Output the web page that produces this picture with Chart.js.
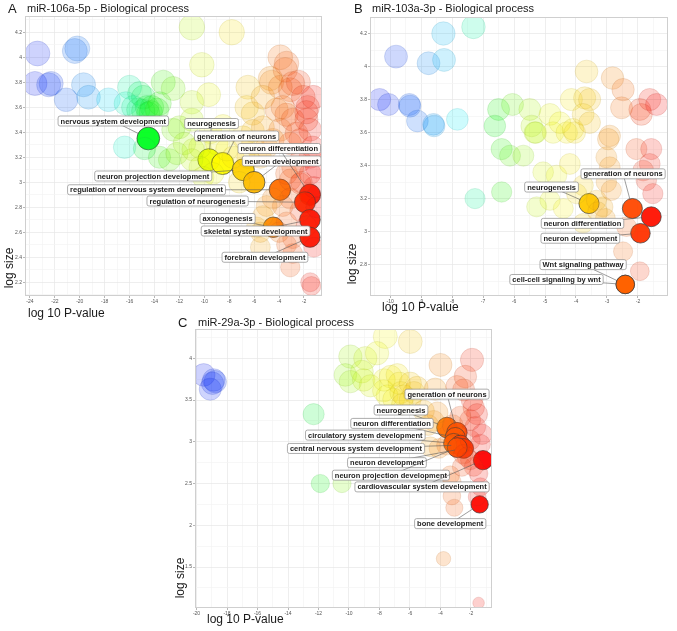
<!DOCTYPE html>
<html lang="en">
<head>
<meta charset="UTF-8">
<title>miRNA GO Biological process bubble plots</title>
<script src="https://cdn.jsdelivr.net/npm/chart.js@4"></script>
<style>
  html, body { margin: 0; padding: 0; background: #fff; }
  #wrap { position: relative; width: 677px; height: 631px; }
  .panel { position: absolute; }
</style>
</head>
<body>
<div id="wrap">
  <div class="panel" style="left:0;top:0"><canvas id="chartA" width="330" height="322"></canvas></div>
  <div class="panel" style="left:340px;top:0"><canvas id="chartB" width="337" height="322"></canvas></div>
  <div class="panel" style="left:150px;top:300px"><canvas id="chartC" width="350" height="331"></canvas></div>
</div>
<script>
// ---- panel A: miR-106a-5p ----
const aPoints = [
  [-23.4,4.03],[-20.4,4.05],[-20.2,4.07],[-23.6,3.79],[-22.5,3.78],[-22.3,3.79],[-21.1,3.66],[-19.7,3.78],[-19.3,3.68],
  [-17.7,3.66],[-16.0,3.76],[-16.3,3.63],[-15.2,3.71],[-14.9,3.68],[-15.7,3.60],[-15.3,3.58],[-14.6,3.60],[-14.2,3.60],
  [-14.9,3.57],[-14.5,3.55],[-14.3,3.56],[-16.4,3.28],[-14.8,3.27],[-13.3,3.80],[-12.5,3.75],[-13.6,3.63],[-13.8,3.58],
  [-11.0,4.24],[-7.8,4.20],[-10.2,3.94],[-9.65,3.70],[-11.0,3.64],[-11.0,3.50],[-12.0,3.44],[-12.5,3.42],[-13.6,3.20],
  [-12.8,3.18],[-12.2,3.23],[-11.6,3.31],[-10.9,3.26],[-10.35,3.28],[-11.0,3.18],[-10.35,3.12],[-10.1,3.04],[-9.3,3.07],
  [-9.0,3.31],[-8.2,3.26],[-7.7,3.20],[-9.5,3.40],[-8.5,3.45],
  [-6.5,3.76],[-6.1,3.55],[-6.6,3.60],[-4.7,3.83],[-4.6,3.80],[-5.3,3.68],[-6.1,3.41],[-5.3,3.44],[-6.9,3.36],[-6.1,3.31],
  [-5.0,3.28],[-3.9,4.00],[-3.4,3.95],[-3.5,3.90],[-3.9,3.76],[-2.9,3.79],[-3.1,3.74],[-4.2,3.58],[-3.4,3.54],[-3.7,3.60],
  [-3.9,3.42],[-4.5,3.34],[-5.8,2.64],[-5.5,2.48],[-3.1,2.32],[-2.9,2.43],[-5.5,3.20],[-6.5,3.20],[-7.2,3.00],
  [-2.45,3.80],[-2.05,3.68],[-1.25,3.68],[-1.5,3.42],[-1.8,3.50],[-2.9,3.50],[-2.6,3.39],[-2.3,3.34],[-3.1,3.31],[-1.3,3.28],
  [-1.5,3.20],[-2.3,3.17],[-2.9,3.12],[-3.4,3.07],[-3.1,3.02],[-2.3,2.99],[-1.5,3.07],[-1.0,3.12],[-1.2,2.96],[-1.0,2.80],
  [-2.3,2.77],[-3.1,2.87],[-3.7,2.81],[-4.5,2.87],[-5.0,2.81],[-5.3,2.73],[-5.5,2.60],[-4.0,2.60],[-3.4,2.68],[-2.9,2.55],
  [-1.2,2.48],[-3.4,2.50],[-1.5,2.20],[-1.4,2.17],[-1.7,3.60],[-1.8,3.56],[-2.2,3.00],[-1.8,2.65]
];
const aTerms = ['nervous system development','neurogenesis','generation of neurons','neuron projection development',
  'neuron development','regulation of nervous system development','neuron differentiation','regulation of neurogenesis',
  'skeletal system development','forebrain development','axonogenesis'];
const aTermX = [-14.5, -9.63, -8.53, -6.87, -6.0, -3.93, -1.52, -1.92, -1.52, -1.52, -4.46];
const aTermY = [3.35, 3.18, 3.15, 3.10, 3.00, 2.94, 2.90, 2.84, 2.70, 2.56, 2.64];
const aLabelX = [-17.31, -9.42, -7.41, -14.1, -3.79, -14.64, -3.98, -10.54, -5.88, -5.13, -8.13];
const aLabelY = [3.49, 3.47, 3.37, 3.05, 3.17, 2.94, 3.27, 2.85, 2.61, 2.40, 2.71];
const aXRange = [-24.4, -0.55], aYRange = [2.09, 4.33];

// ---- panel B: miR-103a-3p ----
const bPoints = [
  [-7.31,4.24],[-8.28,4.20],[-9.81,4.06],[-8.76,4.02],[-8.26,4.04],[-10.34,3.80],[-10.05,3.77],[-9.38,3.77],[-9.36,3.76],
  [-9.12,3.67],[-8.6,3.65],[-8.58,3.64],[-7.83,3.68],[-6.5,3.74],[-6.05,3.77],[-6.62,3.64],[-6.4,3.50],[-6.13,3.46],
  [-5.7,3.46],[-7.26,3.20],[-6.4,3.24],[-5.49,3.74],[-5.43,3.64],[-5.33,3.60],[-5.3,3.60],[-4.84,3.71],[-4.74,3.60],
  [-4.52,3.66],[-4.3,3.60],[-4.1,3.62],[-4.04,3.60],[-4.15,3.80],[-3.72,3.81],[-3.56,3.80],[-3.77,3.71],[-3.56,3.66],
  [-3.66,3.97],[-5.06,3.36],[-4.63,3.34],[-4.2,3.41],[-3.77,3.28],[-3.98,3.23],[-5.27,3.15],[-4.84,3.19],[-4.41,3.14],
  [-3.77,3.05],[-3.34,3.19],[-3.13,3.15],[-2.91,3.58],[-2.96,3.56],[-3.02,3.45],[-2.91,3.39],[-3.02,3.30],[-2.86,3.25],
  [-3.3,3.12],[-3.05,3.08],[-2.82,3.93],[-2.48,3.86],[-2.53,3.75],[-1.94,3.74],[-1.89,3.71],[-1.62,3.80],[-1.4,3.77],
  [-2.05,3.50],[-1.57,3.50],[-1.62,3.41],[-1.83,3.37],[-1.73,3.31],[-1.52,3.23],[-2.37,3.03],[-2.48,2.88],[-1.94,2.76]
];
const bTerms = ['neurogenesis','generation of neurons','neuron differentiation','neuron development',
  'Wnt signaling pathway','cell-cell signaling by wnt'];
const bTermX = [-3.58, -2.18, -1.57, -1.92, -2.41, -2.41];
const bTermY = [3.17, 3.14, 3.09, 2.99, 2.68, 2.68];
const bLabelX = [-4.79, -2.48, -3.79, -3.86, -3.77, -4.63];
const bLabelY = [3.27, 3.35, 3.05, 2.96, 2.80, 2.71];
const bXRange = [-10.65, -1.03], bYRange = [2.61, 4.30];

// ---- panel C: miR-29a-3p ----
const cPoints = [
  [-19.53,3.80],[-18.87,3.74],[-18.77,3.72],[-19.1,3.63],[-18.95,3.70],
  [-12.32,3.33],[-11.88,2.50],[-10.46,2.50],
  [-7.62,4.26],[-5.98,4.20],[-9.91,4.02],[-8.93,4.00],[-8.16,4.06],[-10.24,3.80],[-9.91,3.72],[-9.15,3.84],[-9.04,3.74],
  [-8.6,3.67],[-7.73,3.61],[-7.7,3.74],[-7.27,3.78],[-6.83,3.80],[-6.7,3.70],[-7.5,3.55],[-7.07,3.51],[-6.6,3.59],
  [-6.4,3.55],[-5.74,3.59],[-6.0,3.50],[-6.5,3.45],[-5.98,3.70],[-5.54,3.65],
  [-4.34,3.63],[-4.45,3.25],[-4.0,3.92],[-5.1,3.37],[-4.67,2.94],[-4.1,2.92],[-3.6,2.96],[-3.36,2.60],[-3.25,2.52],
  [-3.25,2.35],[-3.09,2.21],[-4.8,3.20],[-4.2,3.35],
  [-3.8,1.60],[-1.5,1.07],[-1.93,3.98],[-2.37,3.78],[-2.92,3.66],[-2.48,3.62],[-1.93,3.50],[-1.82,3.41],[-1.6,3.33],
  [-2.05,3.26],[-1.71,3.18],[-1.27,3.09],[-1.38,2.97],[-2.05,3.02],[-2.5,2.85],[-2.27,2.82],[-2.05,2.78],[-1.5,2.62],
  [-1.82,2.70],[-1.38,2.46],[-1.6,2.34],[-2.7,3.30],[-3.2,3.20],[-2.6,2.70]
];
const cTerms = ['neurogenesis','generation of neurons','neuron differentiation','circulatory system development',
  'central nervous system development','neuron development','neuron projection development',
  'cardiovascular system development','bone development'];
const cTermX = [-3.57, -2.92, -3.03, -3.14, -2.70, -2.48, -2.90, -1.21, -1.43];
const cTermY = [3.17, 3.11, 3.05, 2.98, 2.96, 2.92, 2.93, 2.78, 2.25];
const cLabelX = [-6.59, -3.57, -7.18, -8.93, -9.54, -7.51, -7.25, -5.21, -3.36];
const cLabelY = [3.38, 3.57, 3.22, 3.08, 2.92, 2.75, 2.60, 2.46, 2.02];
const cXRange = [-20.1, -0.62], cYRange = [1.01, 4.35];

// colour ramp blue -> green -> yellow -> red along the p-value axis
const hueStops = [[0,235],[0.15,215],[0.3,178],[0.4,128],[0.5,88],[0.6,66],[0.7,55],[0.8,40],[0.9,20],[1,0]];
function hueAt(t) {
  t = Math.max(0, Math.min(1, t));
  for (let i = 1; i < hueStops.length; i++) {
    const [t1, h1] = hueStops[i], [t0, h0] = hueStops[i - 1];
    if (t <= t1) return h0 + (h1 - h0) * (t - t0) / (t1 - t0);
  }
  return 0;
}

const FONT = '"Liberation Sans", Arial, sans-serif';
const isMajor = (v, step) => Math.abs(v / step - Math.round(v / step)) < 1e-6;
const fmt = v => String(+v.toFixed(2));

const annotate = {
  id: 'annotate',
  afterDatasetsDraw(chart, args, o) {
    const { ctx, scales: { x, y } } = chart;
    ctx.save();
    ctx.font = 'bold 7.5px ' + FONT;
    o.terms.forEach((t, i) => {
      const px = x.getPixelForValue(o.tx[i]), py = y.getPixelForValue(o.ty[i]);
      const lx = x.getPixelForValue(o.lx[i]), ly = y.getPixelForValue(o.ly[i]);
      const w = ctx.measureText(t).width + 5, h = 10;
      const r = o.rad(o.ty[i]);
      const dx = px - lx, dy = py - ly, d = Math.hypot(dx, dy);
      const inside = Math.abs(dx) < w / 2 && Math.abs(dy) < h / 2;
      if (!inside && d > r) {
        ctx.strokeStyle = '#5a5a5a';
        ctx.lineWidth = 0.6;
        ctx.beginPath();
        ctx.moveTo(lx, ly);
        ctx.lineTo(px - dx / d * r * 0.9, py - dy / d * r * 0.9);
        ctx.stroke();
      }
      ctx.beginPath();
      ctx.roundRect(lx - w / 2, ly - h / 2, w, h, 2);
      ctx.fillStyle = 'rgba(255,255,255,0.95)';
      ctx.fill();
      ctx.strokeStyle = '#8a8a8a';
      ctx.lineWidth = 0.7;
      ctx.stroke();
      ctx.fillStyle = '#222';
      ctx.textAlign = 'center';
      ctx.textBaseline = 'middle';
      ctx.fillText(t, lx, ly + 0.5);
    });
    ctx.restore();
  },
  afterDraw(chart, args, o) {
    const { ctx, chartArea: a } = chart;
    ctx.save();
    ctx.strokeStyle = '#cfcfcf';
    ctx.lineWidth = 1;
    ctx.strokeRect(a.left + 0.5, a.top + 0.5, a.right - a.left - 1, a.bottom - a.top - 1);
    ctx.fillStyle = '#1a1a1a';
    ctx.textBaseline = 'middle';
    ctx.textAlign = 'left';
    ctx.font = '13px ' + FONT;
    ctx.fillText(o.letter, o.letterX, o.titleY);
    ctx.font = '11px ' + FONT;
    ctx.fillText(o.title, o.titleX, o.titleY);
    ctx.font = '12px ' + FONT;
    ctx.fillText('log 10 P-value', o.xtX, o.xtY);
    ctx.translate(o.ytX, o.ytY);
    ctx.rotate(-Math.PI / 2);
    ctx.textAlign = 'center';
    ctx.font = '12px ' + FONT;
    ctx.fillText('log size', 0, 0);
    ctx.restore();
  }
};

function makePanel(id, p) {
  const xs = p.points.map(q => q[0]).concat(p.termX);
  const xmin = Math.min(...xs), xmax = Math.max(...xs);
  const hue = v => hueAt((v - xmin) / (xmax - xmin)).toFixed(0);
  const axis = (range, step, size, isX) => ({
    type: 'linear',
    min: range[0], max: range[1],
    ticks: {
      stepSize: step / 2, includeBounds: false, autoSkip: false, maxTicksLimit: 1000, maxRotation: 0,
      font: { size: 5, family: FONT }, color: '#555', padding: 1,
      callback: v => isMajor(v, step) ? fmt(v) : ''
    },
    grid: {
      color: c => isMajor(c.tick.value, step) ? '#e6e6e6' : '#f4f4f4',
      tickColor: c => isMajor(c.tick.value, step) ? '#9a9a9a' : 'rgba(0,0,0,0)',
      tickLength: 2, lineWidth: 0.7
    },
    border: { display: false },
    afterFit: s => {
      if (isX) { s.height = size; s.paddingLeft = 0; s.paddingRight = 0; }
      else { s.width = size; s.paddingTop = 0; s.paddingBottom = 0; }
    }
  });
  new Chart(document.getElementById(id), {
    type: 'bubble',
    data: {
      datasets: [{
        data: p.points.map(q => ({ x: q[0], y: q[1] })),
        radius: c => p.rad(c.raw.y),
        backgroundColor: c => `hsla(${hue(c.raw.x)},92%,50%,0.2)`,
        borderColor: c => `hsla(${hue(c.raw.x)},70%,42%,0.28)`,
        borderWidth: 0.6
      }, {
        data: p.termX.map((v, i) => ({ x: v, y: p.termY[i] })),
        radius: c => p.rad(c.raw.y),
        backgroundColor: c => `hsla(${hue(c.raw.x)},100%,50%,0.95)`,
        borderColor: '#3a3a3a',
        borderWidth: 0.7
      }]
    },
    options: {
      responsive: false, animation: false, events: [],
      layout: { padding: p.pad, autoPadding: false },
      plugins: {
        legend: { display: false }, tooltip: { enabled: false },
        annotate: Object.assign({
          terms: p.terms, tx: p.termX, ty: p.termY, lx: p.labelX, ly: p.labelY, rad: p.rad
        }, p.text)
      },
      scales: {
        x: axis(p.xRange, p.xStep, p.xH, true),
        y: axis(p.yRange, p.yStep, p.yW, false)
      }
    },
    plugins: [annotate]
  });
}

makePanel('chartA', {
  points: aPoints, terms: aTerms, termX: aTermX, termY: aTermY, labelX: aLabelX, labelY: aLabelY,
  xRange: aXRange, yRange: aYRange, xStep: 2, yStep: 0.2, rad: v => 6 + 1.6 * v,
  pad: { top: 16, right: 8, left: 0, bottom: 0 }, xH: 26, yW: 25,
  text: { letter: 'A', letterX: 8, title: 'miR-106a-5p - Biological process', titleX: 27, titleY: 9,
          xtX: 28, xtY: 314, ytX: 10, ytY: 268 }
});
makePanel('chartB', {
  points: bPoints, terms: bTerms, termX: bTermX, termY: bTermY, labelX: bLabelX, labelY: bLabelY,
  xRange: bXRange, yRange: bYRange, xStep: 1, yStep: 0.2, rad: v => 5 + 1.6 * v,
  pad: { top: 17, right: 9, left: 0, bottom: 0 }, xH: 26, yW: 30,
  text: { letter: 'B', letterX: 14, title: 'miR-103a-3p - Biological process', titleX: 32, titleY: 9,
          xtX: 42, xtY: 308, ytX: 13, ytY: 264 }
});
makePanel('chartC', {
  points: cPoints, terms: cTerms, termX: cTermX, termY: cTermY, labelX: cLabelX, labelY: cLabelY,
  xRange: cXRange, yRange: cYRange, xStep: 2, yStep: 0.5, rad: v => 5.9 * Math.sqrt(v - 0.1),
  pad: { top: 29, right: 8, left: 0, bottom: 0 }, xH: 23, yW: 45,
  text: { letter: 'C', letterX: 28, title: 'miR-29a-3p - Biological process', titleX: 48, titleY: 23,
          xtX: 57, xtY: 320, ytX: 31, ytY: 278 }
});
</script>
</body>
</html>
